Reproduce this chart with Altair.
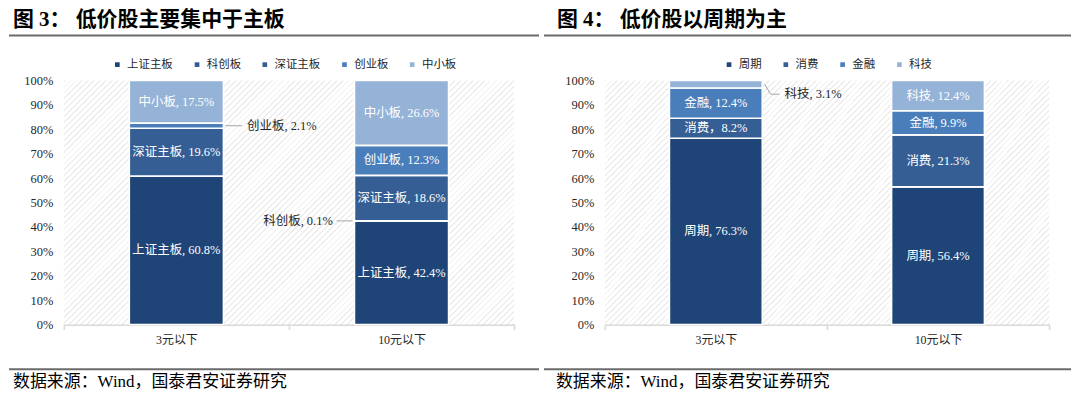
import altair as alt
import pandas as pd

# ---------------- data ----------------
groups = ["3元以下", "10元以下"]

boards = ["上证主板", "科创板", "深证主板", "创业板", "中小板"]
board_3 = [60.8, 0.0, 19.6, 2.1, 17.5]
board_10 = [42.4, 0.1, 18.6, 12.3, 26.6]
board_colors = ["#1F4478", "#2E5A9A", "#355E94", "#4A7EBB", "#95B3D7"]

sectors = ["周期", "消费", "金融", "科技"]
sector_3 = [76.3, 8.2, 12.4, 3.1]
sector_10 = [56.4, 21.3, 9.9, 12.4]
sector_colors = ["#1F4478", "#355E94", "#4A7EBB", "#95B3D7"]

y_ticks = [0, 10, 20, 30, 40, 50, 60, 70, 80, 90, 100]

title_left = "图 3： 低价股主要集中于主板"
title_right = "图 4： 低价股以周期为主"
source_text = "数据来源：Wind，国泰君安证券研究"

FONT = "'Liberation Serif', 'Noto Sans CJK SC'"
TEXT_DARK = "#262626"
LEADER = "#A6A6A6"


def make_df(names, v3, v10, seps=None):
    rows = []
    for g, vals in zip(groups, [v3, v10]):
        for i, (n, v) in enumerate(zip(names, vals)):
            sep = ", "
            if seps and (g, n) in seps:
                sep = seps[(g, n)]
            rows.append(dict(group=g, name=n, value=v, idx=i,
                             label=f"{n}{sep}{v:.1f}%"))
    return pd.DataFrame(rows)


df_boards = make_df(boards, board_3, board_10)
df_sectors = make_df(sectors, sector_3, sector_10, seps={("3元以下", "消费"): "，"})


# ---------------- hatched background (gradient stripes) ----------------
def hatch_gradient(period_px=4.2, duty=0.3, diag_px=493.0):
    p = period_px / diag_px
    stops = []
    k = 0
    white, gray = "#FFFFFF", "#EDEDED"
    while k * p < 1.0:
        a = k * p
        b = min(a + duty * p, 1.0)
        c = min(a + p, 1.0)
        stops += [
            {"offset": round(a, 5), "color": gray},
            {"offset": round(b, 5), "color": gray},
            {"offset": round(b, 5), "color": white},
            {"offset": round(c, 5), "color": white},
        ]
        k += 1
    return {"gradient": "linear", "x1": 0, "y1": 0, "x2": 1.192, "y2": 0.646, "stops": stops}


X_AXIS = alt.Axis(labelAngle=0, labelFontSize=12, labelFont=FONT, labelColor=TEXT_DARK,
                  labelPadding=5, domainColor="#D9D9D9", domainWidth=2, title=None,
                  tickColor="#D9D9D9", tickWidth=1.5, tickSize=5, tickBand="extent")
Y_AXIS = alt.Axis(values=y_ticks, labelExpr="datum.value + '%'", labelOverlap=False, title=None,
                  domain=False, ticks=False, grid=False, labelFontSize=12.5,
                  labelFont=FONT, labelColor=TEXT_DARK, labelPadding=11)
X_SCALE = alt.Scale(paddingInner=0, paddingOuter=0)
Y_SCALE = alt.Scale(domain=[0, 100], nice=False)


def panel(df, names, colors, width, height, title, legend_x, ext, layout):
    xe = alt.X("group:N", sort=groups, title=None, scale=X_SCALE, axis=X_AXIS)
    ye = alt.Y("mid:Q", title=None, scale=Y_SCALE, axis=Y_AXIS)

    base = alt.Chart(df).transform_stack(
        stack="value", groupby=["group"], as_=["y0", "y1"],
        sort=[alt.SortField("idx", order="ascending")],
    ).transform_calculate(mid="(datum.y0 + datum.y1) / 2")

    bg = alt.Chart(pd.DataFrame({"a": [0]})).mark_rect(fill=hatch_gradient(), strokeWidth=0).encode(
        x=alt.value(0), x2=alt.value(width), y=alt.value(0), y2=alt.value(height))

    bars = base.mark_bar(width={"band": 0.418}, stroke="white", strokeWidth=1.6).encode(
        x=xe,
        y=alt.Y("y0:Q", title=None, scale=Y_SCALE, axis=Y_AXIS),
        y2="y1:Q",
        color=alt.Color("name:N", sort=names, scale=alt.Scale(domain=names, range=colors),
                        legend=alt.Legend(orient="none", legendX=legend_x, legendY=-22,
                                          direction="horizontal", title=None,
                                          symbolType="square", symbolSize=22,
                                          symbolStrokeWidth=0, labelFontSize=11.5,
                                          labelFont=FONT, labelColor=TEXT_DARK,
                                          columnPadding=18, labelOffset=4, padding=0)),
        order=alt.Order("idx:Q", sort="ascending"),
    )

    inner = base.transform_filter("datum.value >= 5").mark_text(
        color="white", fontSize=12.5, font=FONT, baseline="middle"
    ).encode(x=xe, y=ye, text="label:N")

    layers = [bg, bars, inner]

    for (g, n, kind) in ext:
        sub = base.transform_filter(
            f"datum.group == '{g}' && datum.name == '{n}'"
        )
        if kind == "right":
            layers.append(sub.mark_rule(color=LEADER, strokeWidth=1, xOffset=49, x2Offset=66)
                          .encode(x=xe, x2=alt.X2("group:N"), y=ye))
            layers.append(sub.mark_text(align="left", baseline="middle", dx=71, fontSize=12.5,
                                        font=FONT, color=TEXT_DARK)
                          .encode(x=xe, y=ye, text="label:N"))
        elif kind == "left":
            layers.append(sub.mark_rule(color=LEADER, strokeWidth=1, xOffset=-65, x2Offset=-49)
                          .encode(x=xe, x2=alt.X2("group:N"), y=ye))
            layers.append(sub.mark_text(align="right", baseline="middle", dx=-69, fontSize=12.5,
                                        font=FONT, color=TEXT_DARK)
                          .encode(x=xe, y=ye, text="label:N"))
        else:  # bent leader to the upper right
            layers.append(sub.mark_rule(color=LEADER, strokeWidth=1, xOffset=49, x2Offset=55,
                                        yOffset=0, y2Offset=10)
                          .encode(x=xe, x2=alt.X2("group:N"), y=ye, y2=alt.Y2("mid:Q")))
            layers.append(sub.mark_rule(color=LEADER, strokeWidth=1, xOffset=55, x2Offset=64,
                                        yOffset=10)
                          .encode(x=xe, x2=alt.X2("group:N"), y=ye))
            layers.append(sub.mark_text(align="left", baseline="middle", dx=69, dy=10,
                                        fontSize=12.5, font=FONT, color=TEXT_DARK)
                          .encode(x=xe, y=ye, text="label:N"))

    # decorations: title, rules, source
    tx, rx1, rx2, sx = layout
    deco_title = alt.Chart(pd.DataFrame({"t": [title]})).mark_text(
        align="left", baseline="middle", fontSize=21, fontWeight="bold", font=FONT, color="#000000"
    ).encode(x=alt.value(tx), y=alt.value(-61), text="t:N")
    rule_top = alt.Chart(pd.DataFrame({"a": [0]})).mark_rule(color="#6B6B6B", strokeWidth=2).encode(
        x=alt.value(rx1), x2=alt.value(rx2), y=alt.value(-45))
    rule_bot = alt.Chart(pd.DataFrame({"a": [0]})).mark_rule(color="#6B6B6B", strokeWidth=2).encode(
        x=alt.value(rx1), x2=alt.value(rx2), y=alt.value(290))
    src = alt.Chart(pd.DataFrame({"t": [source_text]})).mark_text(
        align="left", baseline="middle", fontSize=17, font=FONT, color="#000000"
    ).encode(x=alt.value(sx), y=alt.value(303), text="t:N")

    layers += [deco_title, rule_top, rule_bot, src]
    return alt.layer(*layers).properties(width=width, height=height)


left = panel(df_boards, boards, board_colors, 452, 245, title_left, 48,
             [("3元以下", "创业板", "right"), ("10元以下", "科创板", "left")],
             (-51, -55, 477, -51))
right = panel(df_sectors, sectors, sector_colors, 446, 245, title_right, 119,
              [("3元以下", "科技", "bent")],
              (-48, -61, 468, -49))

chart = alt.hconcat(left, right, spacing=3).resolve_scale(
    color="independent", x="independent", y="independent"
).resolve_legend(color="independent").properties(padding=0).configure_view(
    strokeWidth=0
)

chart.save("out.html", embed_options={"renderer": "svg", "actions": False})
